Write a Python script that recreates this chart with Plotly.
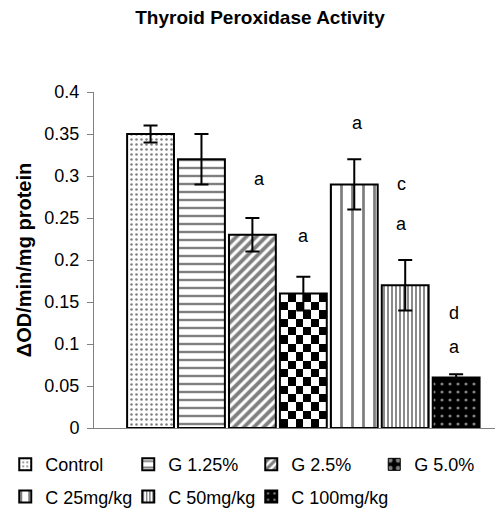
import plotly.graph_objects as go

# ---- data ----
groups = ["Control", "G 1.25%", "G 2.5%", "G 5.0%", "C 25mg/kg", "C 50mg/kg", "C 100mg/kg"]
activity = [0.35, 0.32, 0.23, 0.16, 0.29, 0.17, 0.06]
sem = [0.01, 0.03, 0.02, 0.02, 0.03, 0.03, 0.004]
y_ticks = [0, 0.05, 0.1, 0.15, 0.2, 0.25, 0.3, 0.35, 0.4]
y_tick_labels = ["0", "0.05", "0.1", "0.15", "0.2", "0.25", "0.3", "0.35", "0.4"]

# significance letters (group index position, value position)
sig_text = ["a", "a", "a", "c", "a", "d", "a"]
sig_x = [2.13, 3.0, 4.07, 4.93, 4.93, 5.96, 5.96]
sig_y = [0.296, 0.229, 0.363, 0.29, 0.2425, 0.137, 0.097]

# ---- styles ----
PAGE_OFFSET = 8            # default body margin of the html page
W, H = 503 - PAGE_OFFSET, 527 - PAGE_OFFSET
BAR_W = 0.92
FONT = "Liberation Sans, Arial, sans-serif"
patterns = [
    dict(shape=".", fgcolor="black", bgcolor="white", size=5, solidity=0.2),
    dict(shape="-", fgcolor="black", bgcolor="white", size=8, solidity=0.3),
    dict(shape="/", fgcolor="black", bgcolor="white", size=7, solidity=0.55),
    None,  # checkerboard drawn separately
    dict(shape="|", fgcolor="black", bgcolor="white", size=11, solidity=0.25),
    dict(shape="|", fgcolor="black", bgcolor="white", size=4, solidity=0.45),
    dict(shape=".", fgcolor="white", bgcolor="black", size=8, solidity=0.12),
]
# legend grid placement: (column, row)
legend_cell = [(0, 0), (1, 0), (2, 0), (3, 0), (0, 1), (1, 1), (2, 1)]
CHECK_COLS, CHECK_ROWS = 6, 16

fig = go.Figure()

# checkerboard fill for the G 5.0% bar, derived from its value and bar width
ci = groups.index("G 5.0%")
dx = BAR_W / CHECK_COLS
dy = activity[ci] / CHECK_ROWS
z = [[(r + c + 1) % 2 for c in range(CHECK_COLS)] for r in range(CHECK_ROWS)]
fig.add_trace(go.Heatmap(
    z=z, x0=ci - BAR_W / 2 + dx / 2, dx=dx, y0=dy / 2, dy=dy,
    colorscale=[[0, "white"], [1, "black"]], showscale=False,
    hoverinfo="skip", zmin=0, zmax=1,
))

def legend_id(i):
    return "legend" if i == 0 else f"legend{i + 1}"

for i, name in enumerate(groups):
    pat = patterns[i]
    legend = legend_id(i)
    if pat is None:
        fig.add_trace(go.Bar(
            x=[i], y=[activity[i]], width=BAR_W, name=name, showlegend=False,
            marker=dict(color="rgba(0,0,0,0)", line=dict(color="black", width=2)),
            error_y=dict(type="data", array=[sem[i]], color="black", thickness=2, width=7),
        ))
        # legend entry
        fig.add_trace(go.Bar(
            x=[None], y=[None], name=name, legend=legend,
            marker=dict(color="black", line=dict(color="black", width=1),
                        pattern=dict(shape=".", fgcolor="white", bgcolor="black", size=10, solidity=0.3)),
        ))
    else:
        fig.add_trace(go.Bar(
            x=[i], y=[activity[i]], width=BAR_W, name=name, legend=legend,
            marker=dict(color="white", line=dict(color="black", width=2), pattern=pat),
            error_y=dict(type="data", array=[sem[i]], color="black", thickness=2, width=7),
        ))

for t, xx, yy in zip(sig_text, sig_x, sig_y):
    fig.add_annotation(x=xx, y=yy, text=t, showarrow=False,
                       font=dict(family=FONT, size=18, color="black"))

COL_STEP = 123 / 409   # legend column spacing in paper units
ROW_Y = [-0.054, -0.150]
LEG_X0 = -0.217
legends = {}
for i in range(len(groups)):
    col, row = legend_cell[i]
    legends[legend_id(i)] = dict(
        orientation="h", xanchor="left", yanchor="top",
        x=LEG_X0 + col * COL_STEP, y=ROW_Y[row],
        font=dict(family=FONT, size=18), bgcolor="rgba(0,0,0,0)", itemwidth=30)

fig.update_layout(
    width=W, height=H,
    margin=dict(l=94 - PAGE_OFFSET, r=0, t=92 - PAGE_OFFSET, b=99, autoexpand=False),
    paper_bgcolor="white", plot_bgcolor="white",
    barmode="overlay",
    font=dict(family=FONT, size=18, color="black"),
    title=dict(text="<b>Thyroid Peroxidase Activity</b>", x=(260 - PAGE_OFFSET) / W, xanchor="center",
               y=1 - (17 - PAGE_OFFSET) / H, yanchor="middle", yref="container",
               font=dict(family=FONT, size=19, color="black")),
    showlegend=True,
    **legends,
)
fig.update_xaxes(range=[-1.11, 6.92], showline=True, linecolor="#808080", linewidth=1,
                 showticklabels=False, ticks="", showgrid=False, zeroline=False)
fig.update_yaxes(range=[0, 0.4], tickvals=y_ticks, ticktext=y_tick_labels,
                 showline=True, linecolor="#808080", linewidth=1, ticks="outside",
                 ticklen=6, tickcolor="#808080", showgrid=False, zeroline=False,
                 ticklabelstandoff=4,
                 tickfont=dict(family=FONT, size=18),
                 title=dict(text="<b>ΔOD/min/mg protein</b>", standoff=7,
                            font=dict(family=FONT, size=20)))

fig.write_html("out.html")
